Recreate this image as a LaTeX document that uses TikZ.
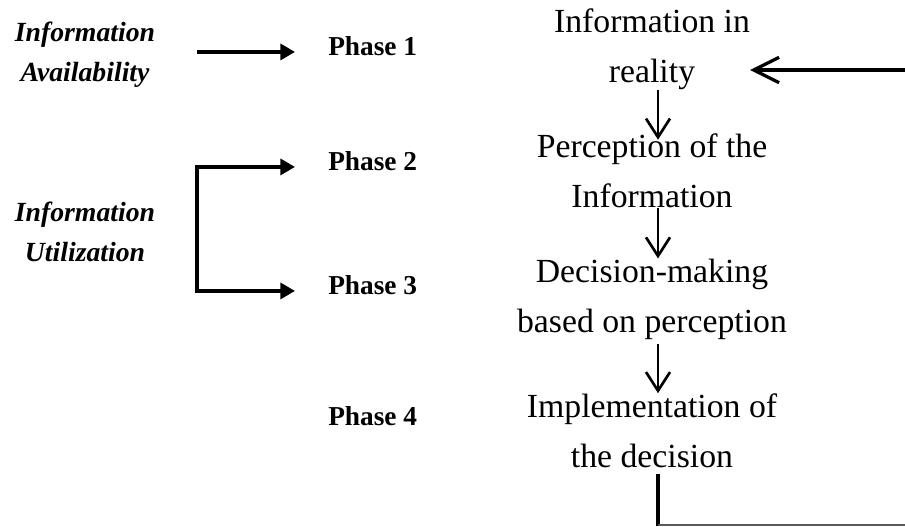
\documentclass[tikz,border=0pt]{standalone}
\usepackage{fontspec}
\setmainfont{Liberation Serif}
\usepackage{tikz}
\usetikzlibrary{positioning,arrows.meta,calc}

\begin{document}
\begin{tikzpicture}[x=0.75pt, y=-0.75pt,
    stage/.style={align=center, inner sep=0pt, font=\fontsize{25.3}{37.5}\selectfont},
    aspect/.style={align=center, inner sep=0pt, font=\fontsize{20.8}{30}\selectfont\bfseries\itshape},
    phase/.style={anchor=base west, inner sep=0pt, font=\fontsize{20.5}{24}\selectfont\bfseries},
    fw/.style={-{Triangle[length=11pt,width=12pt]}, line width=2.6pt},
    dn/.style={-{Straight Barb[length=14pt,width=18pt]}, line width=2pt},
  ]
  \useasboundingbox (0,0) rectangle (905,526);

  \node[aspect] (avail) at (85,55)    {Information\\Availability};
  \node[aspect] (util)  at (85,231.5) {Information\\Utilization};

  \node[phase] (ph1) at (328,55)  {Phase 1};
  \node[phase] (ph2) at (328,170) {Phase 2};
  \node[phase] (ph3) at (328,294) {Phase 3};
  \node[phase] (ph4) at (328,425) {Phase 4};

  \node[stage] (info) at (652,49)    {Information in\\reality};
  \node[stage] (perc) at (652,171)   {Perception of the\\Information};
  \node[stage] (dec)  at (652,299)   {Decision-making\\based on perception};
  \node[stage] (impl) at (652,430.5) {Implementation of\\the decision};

  \coordinate (brk)  at (197,0);
  \coordinate (col)  at (658,0);
  \coordinate (ret)  at (905,70);
  \coordinate (loop) at (658,525);

  \draw[fw] (ph1.mid west -| brk) -- ([xshift=-24.75pt]ph1.mid west);
  \draw[fw, {Triangle[length=11pt,width=12pt]}-{Triangle[length=11pt,width=12pt]}, line join=miter]
    ([xshift=-24.75pt]ph2.mid west) -- (ph2.mid west -| brk)
    -- (ph3.mid west -| brk) -- ([xshift=-24.75pt]ph3.mid west);

  \draw[dn] (info.south -| col) -- ([yshift=-4.5pt]perc.north -| col);
  \draw[dn] (perc.south -| col) -- (dec.north -| col);
  \draw[dn] ([yshift=-3pt]dec.south -| col) -- (impl.north -| col);
  \draw[dn, -{Straight Barb[length=19pt,width=19pt]}, line width=2.4pt] (ret) -- (ret -| info.east);

  \draw[line width=3.6pt] ([yshift=-4.5pt]impl.south -| col) -- (col |- 526,526);
  \draw[gray!70!black, line width=0.8pt] (loop) -- (loop -| ret);
\end{tikzpicture}
\end{document}
